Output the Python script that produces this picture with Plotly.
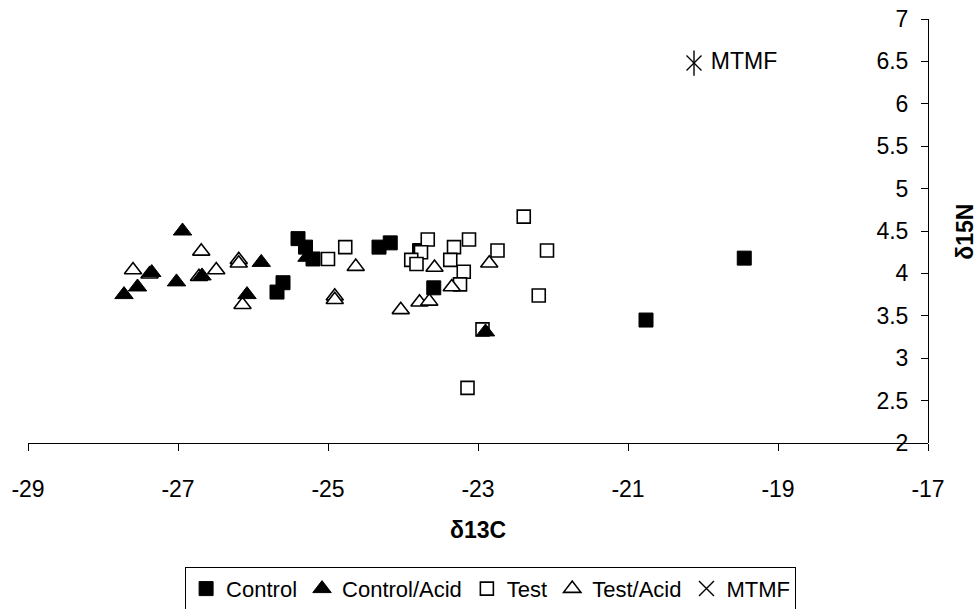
import plotly.graph_objects as go

# δ13C / δ15N pairs per treatment group
control_x = [-25.40, -25.30, -25.20, -25.68, -25.60, -24.32, -24.17, -23.78, -23.59, -20.76, -19.45]
control_y = [4.41, 4.31, 4.17, 3.78, 3.89, 4.31, 4.36, 4.27, 3.83, 3.45, 4.18]

control_acid_x = [-26.94, -27.35, -27.54, -27.72, -27.02, -26.68, -26.08, -25.89, -25.28, -22.90]
control_acid_y = [4.50, 4.01, 3.84, 3.75, 3.90, 3.97, 3.75, 4.13, 4.19, 3.31]

test_x = [-25.00, -24.77, -23.67, -23.76, -23.89, -23.82, -23.32, -23.12, -23.37, -23.19,
          -23.24, -22.74, -22.39, -22.08, -22.19, -22.94, -23.14]
test_y = [4.17, 4.31, 4.40, 4.25, 4.16, 4.11, 4.31, 4.40, 4.16, 4.02,
          3.87, 4.27, 4.67, 4.27, 3.74, 3.34, 2.65]

test_acid_x = [-26.69, -26.19, -26.19, -27.60, -27.38, -26.49, -26.72, -26.14, -24.63, -24.91,
               -24.91, -24.03, -23.78, -23.65, -23.58, -23.35, -22.85]
test_acid_y = [4.26, 4.16, 4.12, 4.04, 3.99, 4.04, 3.96, 3.63, 4.08, 3.73,
               3.69, 3.57, 3.66, 3.67, 4.07, 3.84, 4.12]

mtmf_x = [-20.12]
mtmf_y = [6.48]
mtmf_label = ["MTMF"]

x_ticks = [-29, -27, -25, -23, -21, -19, -17]
x_tick_text = ["-29", "-27", "-25", "-23", "-21", "-19", "-17"]
y_ticks = [2, 2.5, 3, 3.5, 4, 4.5, 5, 5.5, 6, 6.5, 7]
y_tick_text = ["2", "2.5", "3", "3.5", "4", "4.5", "5", "5.5", "6", "6.5", "7"]

FONT = "Liberation Sans, Arial, sans-serif"
FS = 23
LEGEND_FS = 22

fig = go.Figure()

# Drawing order: filled squares at the bottom, filled triangles on top;
# legendrank keeps the legend in series order.
fig.add_trace(go.Scatter(
    x=control_x, y=control_y, mode="markers", name="Control", legendrank=1,
    marker=dict(symbol="square", size=14, color="black", line=dict(color="black", width=1)),
))
fig.add_trace(go.Scatter(
    x=test_x, y=test_y, mode="markers", name="Test", legendrank=3,
    marker=dict(symbol="square", size=13, color="white", line=dict(color="black", width=1.6)),
))
fig.add_trace(go.Scatter(
    x=test_acid_x, y=test_acid_y, mode="markers", name="Test/Acid", legendrank=4,
    marker=dict(symbol="triangle-up", size=15, color="white", line=dict(color="black", width=1.6)),
))
fig.add_trace(go.Scatter(
    x=control_acid_x, y=control_acid_y, mode="markers", name="Control/Acid", legendrank=2,
    marker=dict(symbol="triangle-up", size=16, color="black", line=dict(color="black", width=1)),
))
# six-armed star: an X plus a vertical stroke
fig.add_trace(go.Scatter(
    x=mtmf_x, y=mtmf_y, mode="markers+text", name="MTMF", legendgroup="mtmf", legendrank=5,
    text=mtmf_label, texttemplate=" %{text}", textposition="middle right",
    textfont=dict(family=FONT, size=FS, color="black"),
    marker=dict(symbol="x-thin-open", size=15, color="black", line=dict(color="black", width=1.4)),
))
fig.add_trace(go.Scatter(
    x=mtmf_x, y=mtmf_y, mode="markers", name="MTMF", legendgroup="mtmf", showlegend=False,
    marker=dict(symbol="line-ns-open", size=18, color="black", line=dict(color="black", width=1.4)),
))

fig.update_layout(
    width=978, height=609,
    margin=dict(l=28, r=50, t=19, b=166, autoexpand=False),
    paper_bgcolor="white", plot_bgcolor="white",
    font=dict(family=FONT, size=FS, color="black"),
    showlegend=True,
    legend=dict(
        orientation="h", x=0.514, xanchor="center", y=-0.292, yanchor="top",
        bordercolor="black", borderwidth=1, bgcolor="white",
        font=dict(family=FONT, size=LEGEND_FS, color="black"),
        itemwidth=30, tracegroupgap=0, traceorder="normal",
    ),
    xaxis=dict(
        range=[-29, -17], tickvals=x_ticks, ticktext=x_tick_text,
        ticks="outside", ticklen=7, tickcolor="black",
        showline=True, linecolor="black", linewidth=1, showgrid=False, zeroline=False,
        ticklabelstandoff=18, tickfont=dict(family=FONT, size=FS),
    ),
    yaxis=dict(
        range=[2, 7], tickvals=y_ticks, ticktext=y_tick_text,
        anchor="free", position=1, side="left",
        ticks="outside", ticklen=7, tickcolor="black",
        showline=True, linecolor="black", linewidth=1, showgrid=False, zeroline=False,
        ticklabelstandoff=8, tickfont=dict(family=FONT, size=FS),
    ),
    annotations=[
        dict(text="<b>δ13C</b>", xref="paper", yref="paper", x=0.5, y=-0.205,
             xanchor="center", yanchor="middle", showarrow=False,
             font=dict(family=FONT, size=FS, color="black")),
        dict(text="<b>δ15N</b>", xref="paper", yref="paper", x=1.041, y=0.498,
             xanchor="center", yanchor="middle", showarrow=False, textangle=-90,
             font=dict(family=FONT, size=FS, color="black")),
    ],
)

fig.write_html("out.html")
